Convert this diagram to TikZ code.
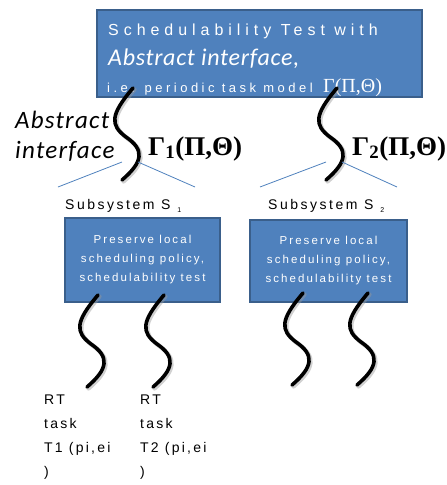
\documentclass[tikz,border=0pt]{standalone}
\usepackage{fontspec}
\setmainfont{Liberation Sans}
\newfontfamily\greekserif{Liberation Serif}
\newfontfamily\humanist{Carlito}
\usetikzlibrary{positioning,calc}

\definecolor{boxblue}{HTML}{4F81BD}
\definecolor{boxedge}{HTML}{3A5F8B}

% tiny lowered index as used after the subsystem names
\newcommand{\lowidx}[1]{\hspace{7pt}{\fontsize{7}{8}\selectfont\raisebox{-3pt}{#1}}}

\begin{document}
\begin{tikzpicture}[x=1pt, y=-1pt,
  blk/.style={draw=boxedge, line width=1.8pt, fill=boxblue, inner sep=0pt},
  title/.style={anchor=base west, inner sep=0pt, text=white},
  wig/.style={line width=3.6pt, line cap=round, black},
  wigshadow/.style={line width=4.2pt, line cap=round, black!40, opacity=0.45},
  tree/.style={draw=boxblue, line width=0.8pt},
  sub/.style={anchor=base west, inner sep=0pt,
    font=\fontsize{14}{16}\selectfont\addfontfeature{LetterSpace=18}},
  inbox/.style={text=white, align=center,
    font=\fontsize{11.5}{19}\selectfont\addfontfeature{LetterSpace=18}},
  task/.style={anchor=north west, inner sep=0pt, align=left,
    font=\fontsize{14}{24}\selectfont\addfontfeature{LetterSpace=16}},
  gam/.style={anchor=base west, inner sep=0pt,
    font=\greekserif\bfseries\fontsize{27}{30}\selectfont}
]
\useasboundingbox (0,0) rectangle (447,485);

% one S-shaped stroke hanging down from a start point
\def\wigpath{(0,0) .. controls (-23,27) and (-23,37) .. (-7,49)
  .. controls (12,62) and (10,74) .. (-11,92)}
\def\wiggle#1{%
  \begin{scope}[shift={(#1)}]
    \draw[wigshadow, shift={(1.5,1.5)}] \wigpath;
    \draw[wig] \wigpath;
  \end{scope}}

% ---- global test ----
\node[blk, minimum width=325pt, minimum height=87pt] (test) at (259.5,53.5) {};
\node[title, font=\fontsize{16}{18}\selectfont\addfontfeature{LetterSpace=31}] (l1)
  at (108,35) {Schedulability Test with};
\node[title, font=\humanist\itshape\fontsize{24}{26}\selectfont\addfontfeature{LetterSpace=3}] (l2)
  at (108,65) {Abstract interface,};
\node[title, font=\fontsize{13}{15}\selectfont\addfontfeature{LetterSpace=27}] (l3)
  at (107,92) {i.e. periodic task model};
\node[title, font=\greekserif\fontsize{20}{22}\selectfont] (gtop)
  at (323,92) {Γ(Π,Θ)};

% ---- interfaces ----
\coordinate (w1) at (133,88);
\coordinate (w2) at (337,88);
\wiggle{w1}
\wiggle{w2}

\node[anchor=north west, inner sep=0pt, align=left,
  font=\humanist\itshape\fontsize{25}{30}\selectfont\addfontfeature{LetterSpace=5}] (absif)
  at (15,111) {Abstract\\interface};
\node[gam] (g1) at (148,155) {Γ\textsubscript{1}(Π,Θ)};
\node[gam] (g2) at (352,155) {Γ\textsubscript{2}(Π,Θ)};

\foreach \w/\a/\b in {w1/58/195, w2/260/397} {
  \draw[tree] ([shift={(-11,74)}]\w) -- (\a,187);
  \draw[tree] ([shift={(5,74)}]\w) -- (\b,187);
}

% ---- subsystems ----
\node[sub] (s1lab) at (65,209) {Subsystem S\lowidx{1}};
\node[sub] (s2lab) at (268,209) {Subsystem S\lowidx{2}};

\node[blk, inbox, minimum width=155pt, minimum height=84pt] (sub1) at (142.5,260)
  {Preserve local\\scheduling policy,\\schedulability test};
\node[blk, inbox, minimum width=157pt, minimum height=82pt] (sub2) at (328.5,261)
  {Preserve local\\scheduling policy,\\schedulability test};

% ---- tasks ----
\coordinate (w3) at (98,295);
\coordinate (w4) at (164,295);
\coordinate (w5) at (303,293);
\coordinate (w6) at (368,293);
\foreach \w in {w3,w4,w5,w6} {\wiggle{\w}}

\node[task] (t1) at (44,395) {RT\\task\\T1 (pi,ei\\)};
\node[task] (t2) at (140,395) {RT\\task\\T2 (pi,ei\\)};
\end{tikzpicture}
\end{document}
